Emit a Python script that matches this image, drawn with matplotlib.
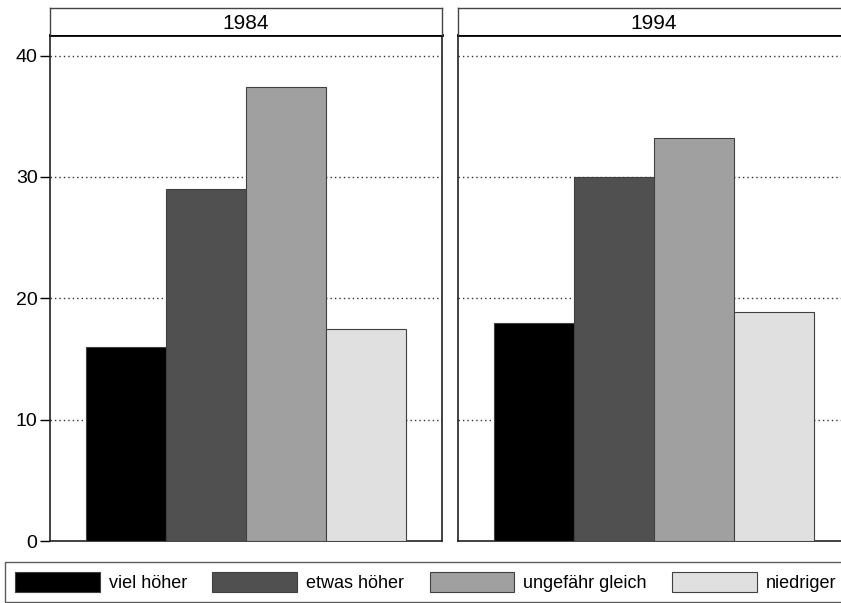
import matplotlib
matplotlib.use('Agg')
import matplotlib.pyplot as plt
from matplotlib.patches import Patch

plt.rcParams['font.family'] = ['Liberation Sans', 'DejaVu Sans']

years = ['1984', '1994']
categories = ['viel höher', 'etwas höher', 'ungefähr gleich', 'niedriger']
values_1984 = [16.0, 29.0, 37.4, 17.5]
values_1994 = [18.0, 30.0, 33.2, 18.9]
yticks = [0, 10, 20, 30, 40]

colors = ['#000000', '#505050', '#a0a0a0', '#e0e0e0']

W, H = 841, 603
fig = plt.figure(figsize=(W / 100, H / 100), dpi=100)


def panel(left, values, year, show_y):
	ax = fig.add_axes([left / W, (H - 541) / H, 392 / W, 506 / H])
	x = list(range(len(values)))
	ax.bar(x, values, width=1.0, color=colors, edgecolor='#404040', linewidth=0.8, zorder=3)
	ax.set_xlim(-0.95, 3.95)
	ax.set_ylim(0, 41.7)
	ax.set_yticks(yticks)
	ax.set_xticks([])
	for t in yticks[1:]:
		ax.axhline(t, color='#333333', linestyle=(0, (1, 2.2)), linewidth=1.0, zorder=1)
	for s in ['left', 'right', 'bottom']:
		ax.spines[s].set_linewidth(1.2)
		ax.spines[s].set_color('#222222')
	ax.spines['top'].set_linewidth(2.0)
	ax.spines['top'].set_color('black')
	if show_y:
		ax.tick_params(axis='y', direction='out', length=7, width=1, pad=2, labelsize=14)
	else:
		ax.tick_params(axis='y', left=False, labelleft=False)
	# strip with year
	st = fig.add_axes([left / W, (H - 35) / H, 392 / W, 27 / H])
	st.set_xticks([])
	st.set_yticks([])
	for s in ['left', 'right', 'top']:
		st.spines[s].set_linewidth(1.0)
		st.spines[s].set_color('#444444')
	st.spines['bottom'].set_visible(False)
	st.text(0.5, 0.42, year, ha='center', va='center', fontsize=15, transform=st.transAxes)
	return ax


panel(50, values_1984, years[0], True)
panel(458, values_1994, years[1], False)

handles = [Patch(facecolor=c, edgecolor='#404040', linewidth=0.8) for c in colors]
leg = fig.legend(handles, categories, loc='upper left', bbox_to_anchor=(5 / W, 1 - 562 / H),
				 ncol=4, fontsize=13, frameon=True, fancybox=False, borderaxespad=0,
				 handlelength=4.7, handleheight=1.35, handletextpad=0.5,
				 columnspacing=1.4, borderpad=0.55)
leg.get_frame().set_edgecolor('#333333')
leg.get_frame().set_linewidth(1.0)

fig.savefig('out.png', dpi=100)
